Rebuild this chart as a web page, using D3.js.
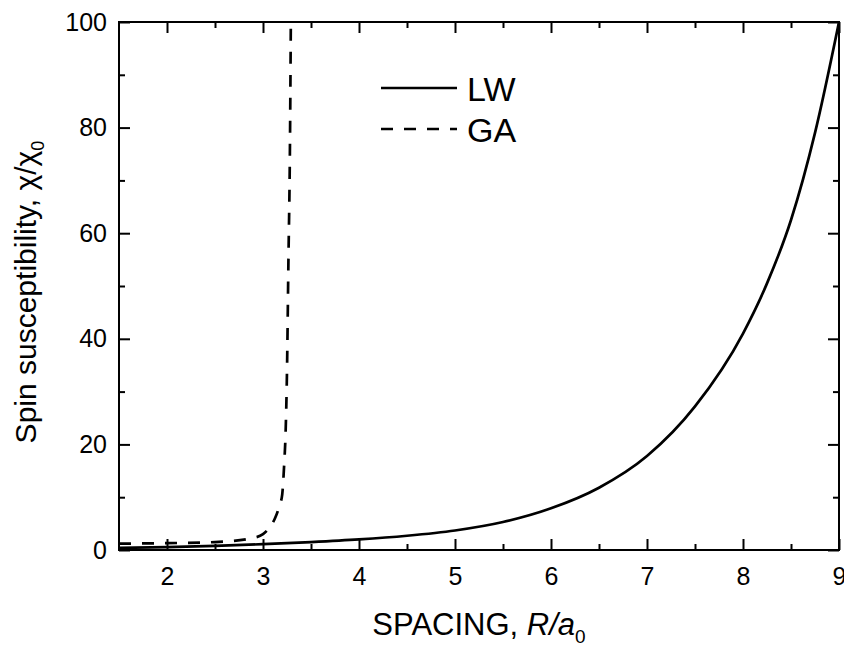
<!DOCTYPE html>
<html>
<head>
<meta charset="utf-8">
<script src="https://d3js.org/d3.v7.min.js"></script>
<style>
body { margin: 0; background: #fff; }
text { font-family: "Liberation Sans", Arial, sans-serif; fill: #000; }
</style>
</head>
<body>
<div id="chart"></div>
<script>

// ---DATA---//

var lwSpacing = [1.5, 2, 2.5, 3, 3.5, 4, 4.5, 5, 5.5, 6, 6.5, 7, 7.5, 8, 8.25, 8.5, 8.75, 9];
var lwChi = [0.4, 0.55, 0.8, 1.1, 1.5, 2.0, 2.7, 3.7, 5.3, 7.9, 11.8, 17.8, 27.2, 41, 50.5, 62.5, 79, 100];

var gaSpacing = [1.5, 2, 2.5, 2.9, 3.0, 3.07, 3.125, 3.17, 3.2, 3.22, 3.235, 3.25, 3.265, 3.28, 3.29];
var gaChi = [1.2, 1.3, 1.5, 2.3, 3.0, 4.3, 6.0, 8.3, 10.5, 16, 22, 34, 55, 75, 100];

var xTicks = [2, 3, 4, 5, 6, 7, 8, 9];
var xMinorTicks = [2.5, 3.5, 4.5, 5.5, 6.5, 7.5, 8.5];
var yTicks = [0, 20, 40, 60, 80, 100];
var yMinorTicks = [10, 30, 50, 70, 90];

var legendLabels = ["LW", "GA"];

// ---LAYOUT---//

var width = 844;
var height = 647;
var margin = { left: 119, top: 22, right: 5, bottom: 97 };
var plotW = width - margin.left - margin.right;
var plotH = height - margin.top - margin.bottom;

var majorLen = 11;
var minorLen = 6;
var dashes = "12,11";

var svg = d3.select("#chart").append("svg")
	.attr("width", width)
	.attr("height", height);

var x = d3.scaleLinear().domain([1.5, 9]).range([0, plotW]);
var y = d3.scaleLinear().domain([0, 100]).range([plotH, 0]);

var g = svg.append("g")
	.attr("transform", "translate(" + margin.left + "," + margin.top + ")");

g.append("clipPath").attr("id", "plotClip")
	.append("rect")
	.attr("x", 0).attr("y", 0)
	.attr("width", plotW).attr("height", plotH);

// ---CURVES---//

var line = d3.line()
	.x(function(d) { return x(d[0]); })
	.y(function(d) { return y(d[1]); })
	.curve(d3.curveMonotoneX);

var lwData = d3.zip(lwSpacing, lwChi);
var gaData = d3.zip(gaSpacing, gaChi);

var curves = g.append("g").attr("clip-path", "url(#plotClip)");

curves.append("path")
	.datum(lwData)
	.attr("d", line)
	.attr("fill", "none")
	.attr("stroke", "#000")
	.attr("stroke-width", 2.7);

curves.append("path")
	.datum(gaData)
	.attr("d", line)
	.attr("fill", "none")
	.attr("stroke", "#000")
	.attr("stroke-width", 2.7)
	.attr("stroke-dasharray", dashes);

// ---AXES (ticks inside, mirrored on top and right)---//

function tickAxis(axisFn, scale, values, len) {
	return axisFn(scale).tickValues(values).tickSize(len).tickFormat("");
}

// bottom
g.append("g").attr("class", "ax")
	.attr("transform", "translate(0," + plotH + ")")
	.call(tickAxis(d3.axisTop, x, xTicks, majorLen));
g.append("g").attr("class", "ax")
	.attr("transform", "translate(0," + plotH + ")")
	.call(tickAxis(d3.axisTop, x, xMinorTicks, minorLen));
// top
g.append("g").attr("class", "ax")
	.call(tickAxis(d3.axisBottom, x, xTicks, majorLen));
g.append("g").attr("class", "ax")
	.call(tickAxis(d3.axisBottom, x, xMinorTicks, minorLen));
// left
g.append("g").attr("class", "ax")
	.call(tickAxis(d3.axisRight, y, yTicks, majorLen));
g.append("g").attr("class", "ax")
	.call(tickAxis(d3.axisRight, y, yMinorTicks, minorLen));
// right
g.append("g").attr("class", "ax")
	.attr("transform", "translate(" + plotW + ",0)")
	.call(tickAxis(d3.axisLeft, y, yTicks, majorLen));
g.append("g").attr("class", "ax")
	.attr("transform", "translate(" + plotW + ",0)")
	.call(tickAxis(d3.axisLeft, y, yMinorTicks, minorLen));

// tick labels, outside the frame
g.append("g").attr("class", "lab")
	.attr("transform", "translate(0," + plotH + ")")
	.call(d3.axisBottom(x).tickValues(xTicks).tickSize(0).tickPadding(17).tickFormat(d3.format("d")));
g.append("g").attr("class", "lab")
	.call(d3.axisLeft(y).tickValues(yTicks).tickSize(0).tickPadding(12).tickFormat(d3.format("d")));

g.selectAll(".ax .domain, .lab .domain").remove();
g.selectAll(".ax line").attr("stroke", "#000").attr("stroke-width", 2);
g.selectAll(".lab text")
	.attr("fill", "#000")
	.style("font-family", "'Liberation Sans', Arial, sans-serif")
	.style("font-size", "25px");

// frame
g.append("rect")
	.attr("x", 0).attr("y", 0)
	.attr("width", plotW).attr("height", plotH)
	.attr("fill", "none")
	.attr("stroke", "#000")
	.attr("stroke-width", 2);

// ---LEGEND---//

var legend = g.append("g")
	.attr("transform", "translate(" + (381 - margin.left) + "," + (88 - margin.top) + ")");

legend.selectAll("line").data(legendLabels).enter().append("line")
	.attr("x1", 0).attr("x2", 76)
	.attr("y1", function(d, i) { return i * 41; })
	.attr("y2", function(d, i) { return i * 41; })
	.attr("stroke", "#000")
	.attr("stroke-width", 2.7)
	.attr("stroke-dasharray", function(d, i) { return i === 1 ? dashes : null; });

legend.selectAll("text").data(legendLabels).enter().append("text")
	.attr("x", 86)
	.attr("y", function(d, i) { return i * 41 + 12.5; })
	.style("font-size", "34px")
	.text(function(d) { return d; });

// ---AXIS TITLES---//

var xTitle = svg.append("text")
	.attr("x", margin.left + plotW / 2)
	.attr("y", 635)
	.attr("text-anchor", "middle")
	.style("font-size", "31px");
xTitle.append("tspan").text("SPACING, ");
xTitle.append("tspan").style("font-style", "italic").text("R/a");
xTitle.append("tspan").attr("dy", 8).style("font-size", "19px").text("0");

var yTitle = svg.append("text")
	.attr("transform", "translate(36," + (margin.top + plotH / 2 + 6) + ") rotate(-90)")
	.attr("text-anchor", "middle")
	.style("font-size", "30px");
yTitle.append("tspan").text("Spin susceptibility, \u03c7/\u03c7");
yTitle.append("tspan").attr("dy", 8).style("font-size", "18px").text("0");

</script>
</body>
</html>
